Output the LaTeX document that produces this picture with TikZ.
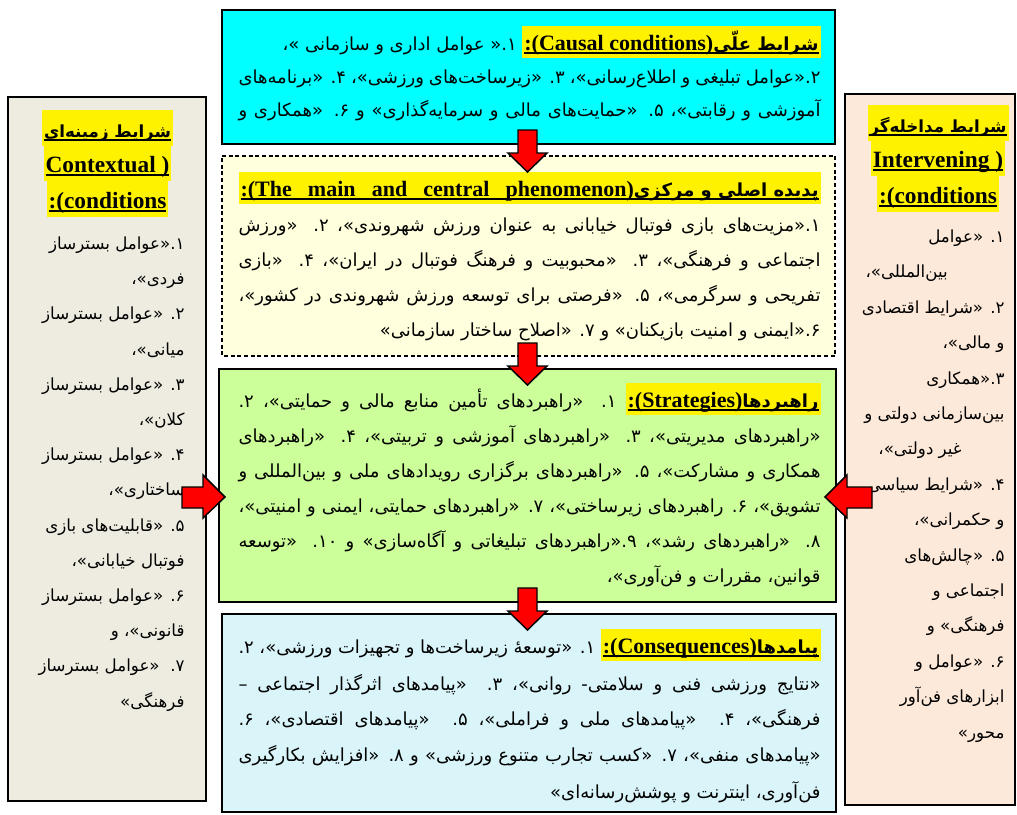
\documentclass[tikz,border=0pt]{standalone}
\usepackage{fontspec}
\setmainfont{Liberation Serif}
\newfontfamily\fa[Script=Arabic]{DejaVu Sans}
\TeXXeTstate=1

\tikzset{every picture/.style={line width=0.75pt}}
\tikzset{
  fatext/.style={inner sep=0pt, font=\fa\fontsize{13.5}{16}\selectfont},
  faside/.style={inner sep=0pt, font=\fa\fontsize{12.5}{16}\selectfont}
}

\newlength\linew
\setlength\linew{436.5pt}
\newcommand\rline[1]{\beginR #1\endR}
\newcommand\jline[1]{\hbox to\linew{\beginR #1\endR}}
\newcommand\fab{\fa\bfseries\fontsize{13.5}{16}\selectfont}
\newcommand\fabs{\fa\bfseries\fontsize{12.5}{16}\selectfont}
\newcommand\enh{\rmfamily\bfseries\fontsize{16.5}{18}\selectfont}
\newcommand\ens{\rmfamily\bfseries\fontsize{17.5}{18}\selectfont}
\newcommand\hl[2][24pt]{\hbox{\setbox0\hbox{\kern1.5pt#2\kern1.5pt}%
  \rlap{\color{yellow}\rule[\dimexpr-#1/4\relax]{\wd0}{#1}}%
  \rlap{\kern1.5pt\rule[-2.8pt]{\dimexpr\wd0-3pt\relax}{1.1pt}}%
  \box0}}

\begin{document}
\begin{tikzpicture}[x=0.75pt,y=0.75pt,yscale=-1,xscale=1]
\useasboundingbox[fill=white] (0,0) rectangle (1017,814);

%Shape: Rectangle
\draw  [fill={rgb, 255:red, 0; green, 255; blue, 255 }, line width=1.1pt] (222,10) -- (835,10) -- (835,144) -- (222,144) -- cycle ;
%Shape: Rectangle
\draw  [dash pattern={on 3pt off 2pt}][fill={rgb, 255:red, 255; green, 255; blue, 221 }, line width=1.1pt] (222,156) -- (835,156) -- (835,356) -- (222,356) -- cycle ;
%Shape: Rectangle
\draw  [fill={rgb, 255:red, 204; green, 255; blue, 153 }, line width=1.1pt] (219,369) -- (836,369) -- (836,602) -- (219,602) -- cycle ;
%Shape: Rectangle
\draw  [fill={rgb, 255:red, 218; green, 245; blue, 250 }, line width=1.1pt] (222,614) -- (836,614) -- (836,812) -- (222,812) -- cycle ;
%Shape: Rectangle
\draw  [fill={rgb, 255:red, 238; green, 236; blue, 225 }, line width=1.1pt] (8,97) -- (206,97) -- (206,801) -- (8,801) -- cycle ;
%Shape: Rectangle
\draw  [fill={rgb, 255:red, 253; green, 233; blue, 217 }, line width=1.1pt] (845,94) -- (1015,94) -- (1015,805) -- (845,805) -- cycle ;

% Text Node
\draw (821,50) node (cau1) [anchor=base east][fatext] {\rline{۱.« عوامل اداری و سازمانی »،}\ \hl{\hbox{\enh :(Causal conditions)}\rline{\fab شرایط عل^^^^0651ی}}};
% Text Node
\draw (821,83) node (cau2) [anchor=base east][fatext] {\jline{۲.«عوامل تبلیغی و اطلاع^^^^200cرسانی»، ۳. «زیرساخت^^^^200cهای ورزشی»، ۴. «برنامه^^^^200cهای}};
% Text Node
\draw (821,116) node (cau3) [anchor=base east][fatext] {\jline{آموزشی و رقابتی»، ۵. «حمایت^^^^200cهای مالی و سرمایه^^^^200cگذاری» و ۶. «همکاری و}};

% Text Node
\draw (821,196) node (phe1) [anchor=base east][fatext] {\hl{\hbox to\dimexpr\linew-3pt\relax{\enh :(The\hfil main\hfil and\hfil central\hfil phenomenon)\rline{\fab پدیده اصلی و مرکزی}}}};
% Text Node
\draw (821,231) node (phe2) [anchor=base east][fatext] {\jline{۱.«مزیت^^^^200cهای بازی فوتبال خیابانی به عنوان ورزش شهروندی»، ۲. «ورزش}};
% Text Node
\draw (821,266) node (phe3) [anchor=base east][fatext] {\jline{اجتماعی و فرهنگی»، ۳. «محبوبیت و فرهنگ فوتبال در ایران»، ۴. «بازی}};
% Text Node
\draw (821,301) node (phe4) [anchor=base east][fatext] {\jline{تفریحی و سرگرمی»، ۵. «فرصتی برای توسعه ورزش شهروندی در کشور»،}};
% Text Node
\draw (821,336) node (phe5) [anchor=base east][fatext] {\rline{۶.«ایمنی و امنیت بازیکنان» و ۷. «اصلاح ساختار سازمانی»}};

% Text Node
\draw (821,407) node (str1) [anchor=base east][fatext] {\hbox to\linew{\beginR ۱. «راهبردهای تأمین منابع مالی و حمایتی»، ۲.\endR\ \hl{\hbox{\enh :(Strategies)}\rline{\fab راهبردها}}}};
% Text Node
\draw (821,442) node (str2) [anchor=base east][fatext] {\jline{«راهبردهای مدیریتی»، ۳. «راهبردهای آموزشی و تربیتی»، ۴. «راهبردهای}};
% Text Node
\draw (821,477) node (str3) [anchor=base east][fatext] {\jline{همکاری و مشارکت»، ۵. «راهبردهای برگزاری رویدادهای ملی و بین^^^^200cالمللی و}};
% Text Node
\draw (821,512) node (str4) [anchor=base east][fatext] {\jline{تشویق»، ۶. راهبردهای زیرساختی»، ۷. «راهبردهای حمایتی، ایمنی و امنیتی»،}};
% Text Node
\draw (821,547) node (str5) [anchor=base east][fatext] {\jline{۸. «راهبردهای رشد»، ۹.«راهبردهای تبلیغاتی و آگاه^^^^200cسازی» و ۱۰. «توسعه}};
% Text Node
\draw (821,582) node (str6) [anchor=base east][fatext] {\rline{قوانین، مقررات و فن^^^^200cآوری»،}};

% Text Node
\draw (821,653) node (con1) [anchor=base east][fatext] {\hbox to\linew{\beginR ۱. «توسعه^^^^0654 زیرساخت^^^^200cها و تجهیزات ورزشی»، ۲.\endR\ \hl{\hbox{\enh :(Consequences)}\rline{\fab پیامدها}}}};
% Text Node
\draw (821,690) node (con2) [anchor=base east][fatext] {\jline{«نتایج ورزشی فنی و سلامتی- روانی»، ۳. «پیامدهای اثرگذار اجتماعی –}};
% Text Node
\draw (821,725) node (con3) [anchor=base east][fatext] {\jline{فرهنگی»، ۴. «پیامدهای ملی و فراملی»، ۵. «پیامدهای اقتصادی»، ۶.}};
% Text Node
\draw (821,761) node (con4) [anchor=base east][fatext] {\jline{«پیامدهای منفی»، ۷. «کسب تجارب متنوع ورزشی» و ۸. «افزایش بکارگیری}};
% Text Node
\draw (821,798) node (con5) [anchor=base east][fatext] {\rline{فن^^^^200cآوری، اینترنت و پوشش^^^^200cرسانه^^^^200cای»}};

% Text Node
\draw (107.5,137) node (ctx1) [anchor=base][faside] {\hl[27pt]{\rline{\fabs شرایط زمینه^^^^200cای}}};
% Text Node
\draw (107.5,172) node (ctx2) [anchor=base][faside] {\hl[27pt]{\ens Contextual )}};
% Text Node
\draw (107.5,208) node (ctx3) [anchor=base][faside] {\hl[27pt]{\ens :(conditions}};
% Text Node
\draw (185,249) node (ctx4) [anchor=base east][faside] {\rline{۱.«عوامل بسترساز}};
% Text Node
\draw (185,284) node (ctx5) [anchor=base east][faside] {\rline{فردی»،}};
% Text Node
\draw (185,319) node (ctx6) [anchor=base east][faside] {\rline{۲. «عوامل بسترساز}};
% Text Node
\draw (185,355) node (ctx7) [anchor=base east][faside] {\rline{میانی»،}};
% Text Node
\draw (185,390) node (ctx8) [anchor=base east][faside] {\rline{۳. «عوامل بسترساز}};
% Text Node
\draw (185,425) node (ctx9) [anchor=base east][faside] {\rline{کلان»،}};
% Text Node
\draw (185,460) node (ctx10) [anchor=base east][faside] {\rline{۴. «عوامل بسترساز}};
% Text Node
\draw (185,495) node (ctx11) [anchor=base east][faside] {\rline{ساختاری»،}};
% Text Node
\draw (185,531) node (ctx12) [anchor=base east][faside] {\rline{۵. «قابلیت^^^^200cهای بازی}};
% Text Node
\draw (185,566) node (ctx13) [anchor=base east][faside] {\rline{فوتبال خیابانی»،}};
% Text Node
\draw (185,601) node (ctx14) [anchor=base east][faside] {\rline{۶. «عوامل بسترساز}};
% Text Node
\draw (185,636) node (ctx15) [anchor=base east][faside] {\rline{قانونی»، و}};
% Text Node
\draw (185,671) node (ctx16) [anchor=base east][faside] {\rline{۷.\ \ «عوامل بسترساز}};
% Text Node
\draw (185,707) node (ctx17) [anchor=base east][faside] {\rline{فرهنگی»}};

% Text Node
\draw (938,132) node (int1) [anchor=base][faside] {\hl[27pt]{\rline{\fabs شرایط مداخله^^^^200cگر}}};
% Text Node
\draw (938,167) node (int2) [anchor=base][faside] {\hl[27pt]{\ens Intervening )}};
% Text Node
\draw (938,203) node (int3) [anchor=base][faside] {\hl[27pt]{\ens :(conditions}};
% Text Node
\draw (1005,242) node (int4) [anchor=base east][faside] {\rline{۱. «عوامل}};
% Text Node
\draw (865,277) node (int5) [anchor=base west][faside] {\rline{بین^^^^200cالمللی»،}};
% Text Node
\draw (1005,313) node (int6) [anchor=base east][faside] {\rline{۲. «شرایط اقتصادی}};
% Text Node
\draw (1005,348) node (int7) [anchor=base east][faside] {\rline{و مالی»،}};
% Text Node
\draw (1005,384) node (int8) [anchor=base east][faside] {\rline{۳.«همکاری}};
% Text Node
\draw (1005,419) node (int9) [anchor=base east][faside] {\rline{بین^^^^200cسازمانی دولتی و}};
% Text Node
\draw (920,454) node (int10) [anchor=base][faside] {\rline{غیر دولتی»،}};
% Text Node
\draw (1005,490) node (int11) [anchor=base east][faside] {\rline{۴. «شرایط سیاسی}};
% Text Node
\draw (1005,525) node (int12) [anchor=base east][faside] {\rline{و حکمرانی»،}};
% Text Node
\draw (1005,561) node (int13) [anchor=base east][faside] {\rline{۵. «چالش^^^^200cهای}};
% Text Node
\draw (1005,596) node (int14) [anchor=base east][faside] {\rline{اجتماعی و}};
% Text Node
\draw (1005,631) node (int15) [anchor=base east][faside] {\rline{فرهنگی» و}};
% Text Node
\draw (1005,667) node (int16) [anchor=base east][faside] {\rline{۶. «عوامل و}};
% Text Node
\draw (1005,702) node (int17) [anchor=base east][faside] {\rline{ابزارهای فن^^^^200cآور}};
% Text Node
\draw (1005,738) node (int18) [anchor=base east][faside] {\rline{محور»}};

%Shape: Down Arrow
\draw  [fill={rgb, 255:red, 255; green, 0; blue, 0 }, line width=1.1pt] (518,130) -- (537,130) -- (537,153) -- (547,153) -- (527.5,172) -- (508,153) -- (518,153) -- cycle ;
%Shape: Down Arrow
\draw  [fill={rgb, 255:red, 255; green, 0; blue, 0 }, line width=1.1pt] (518,343) -- (537,343) -- (537,366) -- (547,366) -- (527.5,385) -- (508,366) -- (518,366) -- cycle ;
%Shape: Down Arrow
\draw  [fill={rgb, 255:red, 255; green, 0; blue, 0 }, line width=1.1pt] (518,588) -- (537,588) -- (537,611) -- (547,611) -- (527.5,630) -- (508,611) -- (518,611) -- cycle ;
%Shape: Right Arrow
\draw  [fill={rgb, 255:red, 255; green, 0; blue, 0 }, line width=1.1pt] (182,487) -- (203,487) -- (203,475) -- (225,497) -- (203,518) -- (203,508) -- (182,508) -- cycle ;
%Shape: Left Arrow
\draw  [fill={rgb, 255:red, 255; green, 0; blue, 0 }, line width=1.1pt] (872,487) -- (847,487) -- (847,475) -- (825,497) -- (847,518) -- (847,508) -- (872,508) -- cycle ;

\end{tikzpicture}
\end{document}
